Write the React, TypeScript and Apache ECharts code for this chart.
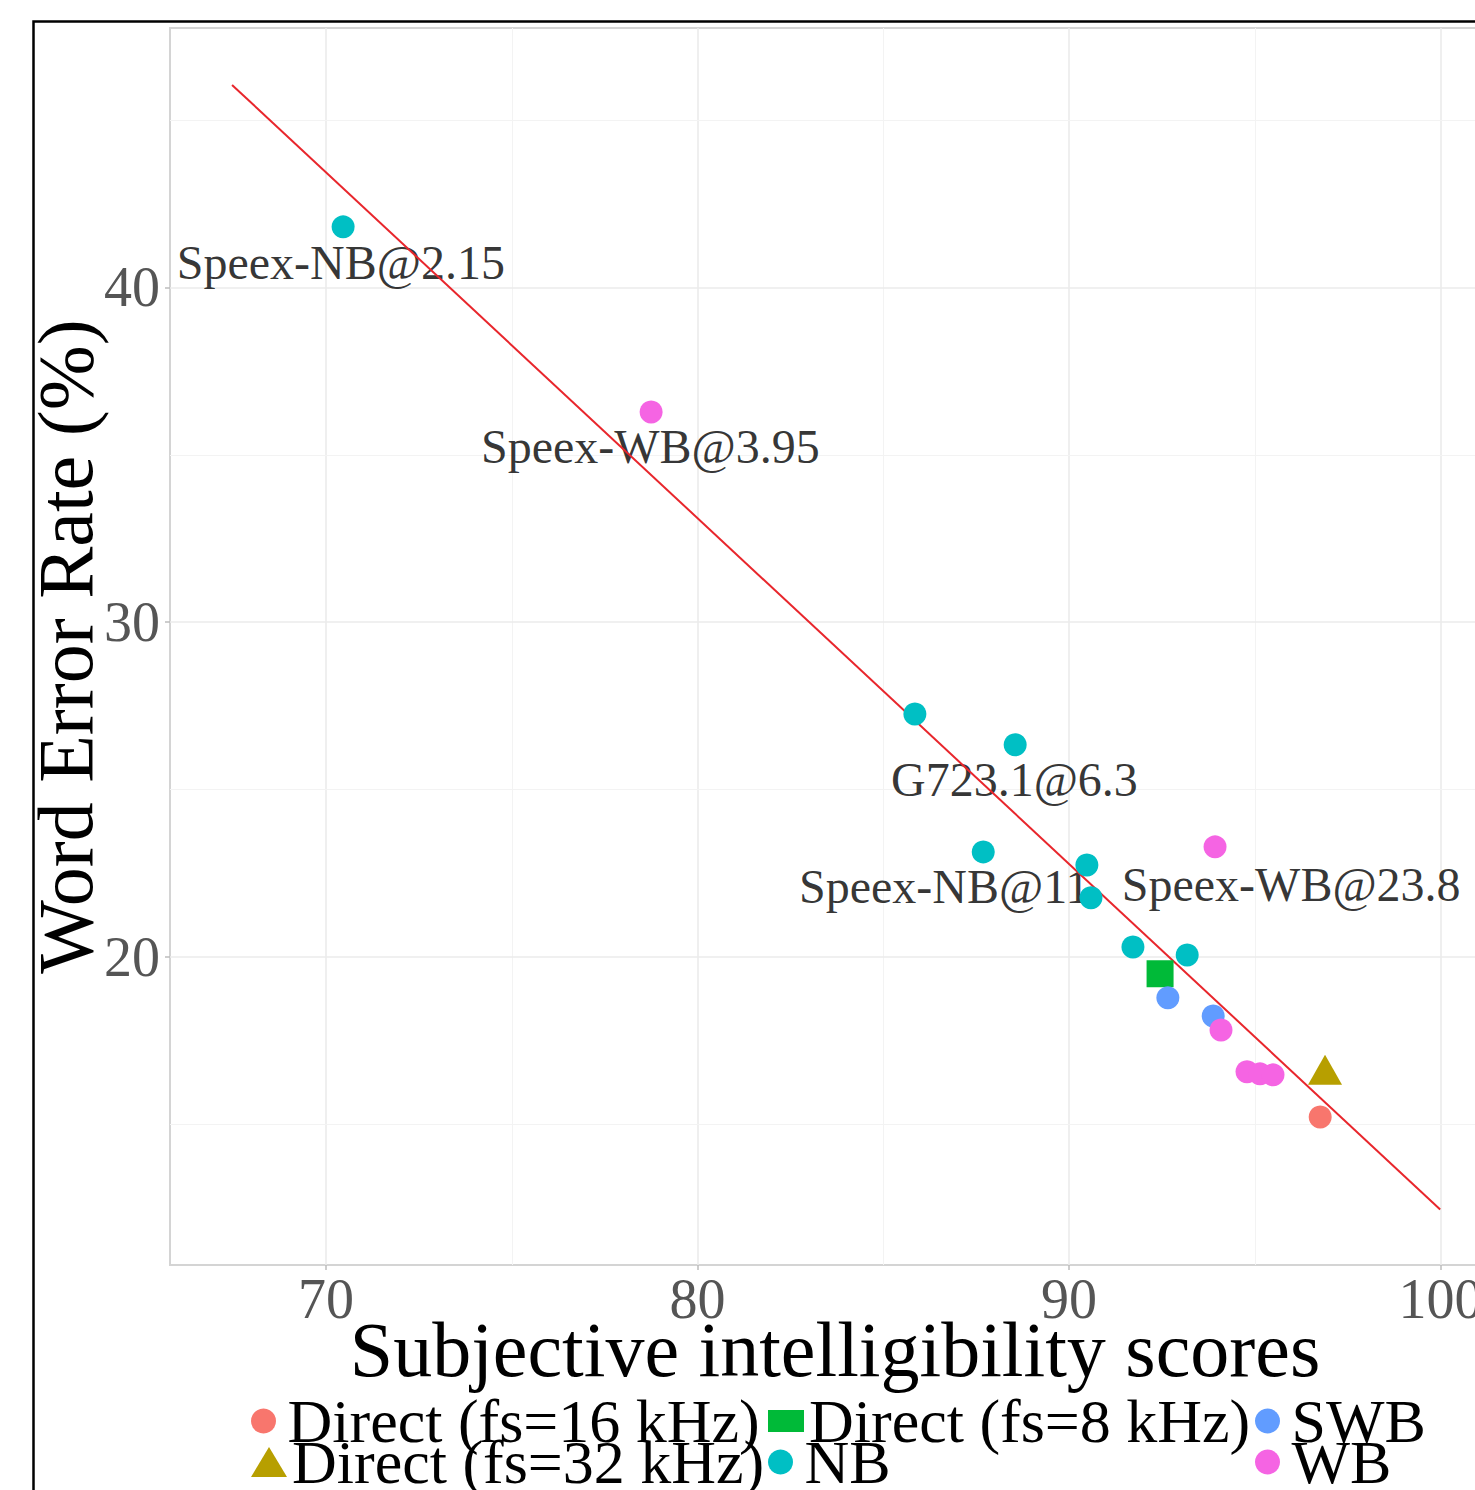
import React, { useEffect, useRef } from "react";
import * as echarts from "echarts";

// ---- data ----
const groups = ["Direct (fs=16 kHz)", "Direct (fs=32 kHz)", "Direct (fs=8 kHz)", "NB", "SWB", "WB"];
const groupColors = ["#F8766D", "#B79F00", "#00BA38", "#00BFC4", "#619CFF", "#F564E3"];
const groupSymbols = ["circle", "triangle", "rect", "circle", "circle", "circle"];
const groupSymbolSizes = [23, [34, 30], 27, 23, 23, 23];

const direct16 = [[96.76, 15.22]];
const direct32 = [[96.89, 16.63]];
const direct8 = [[92.45, 19.5]];
const nb = [
  [70.46, 41.81],
  [85.85, 27.26],
  [88.55, 26.34],
  [87.69, 23.14],
  [90.48, 22.75],
  [90.59, 21.77],
  [91.72, 20.3],
  [93.18, 20.06],
];
const swb = [
  [92.66, 18.78],
  [93.88, 18.24],
];
const wb = [
  [78.75, 36.28],
  [93.93, 23.29],
  [94.09, 17.82],
  [94.79, 16.57],
  [95.14, 16.51],
  [95.49, 16.48],
];
const groupData = [direct16, direct32, direct8, nb, swb, wb];

const regression = [
  [67.47, 46.05],
  [99.99, 12.46],
];

const annotationTexts = ["Speex-NB@2.15", "Speex-WB@3.95", "G723.1@6.3", "Speex-NB@11", "Speex-WB@23.8"];
const annotationX = [70.4, 78.73, 88.53, 86.64, 95.98];
const annotationY = [40.76, 35.24, 25.29, 22.12, 22.18];

const xMajorTicks = [70, 80, 90, 100];
const xMinorTicks = [75, 85, 95];
const yMajorTicks = [20, 30, 40];
const yMinorTicks = [15, 25, 35, 45];

const xTitle = "Subjective intelligibility scores";
const yTitle = "Word Error Rate (%)";

// legend layout (page pixels)
const legendLeft = [251, 251, 768, 768, 1255, 1255];
const legendTop = [1390, 1431, 1390, 1431, 1390, 1431];
const legendItemW = [38, 36, 36, 38, 38, 38];
const legendItemH = [25, 30, 22, 25, 25, 25];

const FONT = "'Liberation Serif', 'Times New Roman', serif";

function buildOption() {
  const gridLines: any[] = [];
  xMajorTicks.forEach((v) => gridLines.push({ xAxis: v, lineStyle: { color: "#ebebeb", width: 1.6, type: "solid" } }));
  xMinorTicks.forEach((v) => gridLines.push({ xAxis: v, lineStyle: { color: "#f3f3f3", width: 1, type: "solid" } }));
  yMajorTicks.forEach((v) => gridLines.push({ yAxis: v, lineStyle: { color: "#ebebeb", width: 1.6, type: "solid" } }));
  yMinorTicks.forEach((v) => gridLines.push({ yAxis: v, lineStyle: { color: "#f3f3f3", width: 1, type: "solid" } }));

  const series: any[] = [
    {
      name: "gridlines",
      type: "line",
      data: [],
      silent: true,
      z: 1,
      markLine: {
        silent: true,
        z: 1,
        symbol: ["none", "none"],
        label: { show: false },
        animation: false,
        data: gridLines,
      },
    },
    {
      name: "annotations",
      type: "scatter",
      silent: true,
      z: 2,
      symbol: "circle",
      symbolSize: 1,
      itemStyle: { color: "rgba(0,0,0,0)" },
      data: annotationTexts.map((t, i) => ({ name: t, value: [annotationX[i], annotationY[i]] })),
      label: {
        show: true,
        position: "inside",
        formatter: "{b}",
        fontFamily: FONT,
        fontSize: 48,
        color: "#000000",
        textBorderWidth: 0,
        textBorderColor: "transparent",
        textShadowBlur: 0,
      },
    },
    {
      name: "fit",
      type: "line",
      silent: true,
      z: 3,
      showSymbol: false,
      data: regression,
      lineStyle: { color: "#e8262c", width: 2 },
    },
  ];

  groups.forEach((g, i) => {
    series.push({
      name: g,
      type: "scatter",
      z: 4,
      symbol: groupSymbols[i],
      symbolSize: groupSymbolSizes[i],
      itemStyle: { color: groupColors[i], opacity: 1 },
      data: groupData[i],
    });
  });

  const legends = groups.map((g, i) => ({
    data: [{ name: g }],
    left: legendLeft[i],
    top: legendTop[i],
    padding: 0,
    itemWidth: legendItemW[i],
    itemHeight: legendItemH[i],
    symbolKeepAspect: true,
    textStyle: { fontFamily: FONT, fontSize: 62, lineHeight: 62, color: "#000", padding: 0 },
  }));

  return {
    animation: false,
    backgroundColor: "#ffffff",
    legend: legends,
    grid: {
      left: 170,
      top: 28,
      width: 1330,
      height: 1237,
      show: true,
      backgroundColor: "#ffffff",
      borderColor: "#d4d4d4",
      borderWidth: 2,
      containLabel: false,
    },
    graphic: [
      {
        type: "rect",
        left: 31,
        top: 19,
        shape: { width: 1600, height: 1600 },
        style: { fill: "none", stroke: "#000", lineWidth: 2.5 },
        silent: true,
        z: 100,
      },
    ],
    xAxis: {
      type: "value",
      min: 65.8,
      max: 101.6,
      name: xTitle,
      nameLocation: "middle",
      nameGap: 45,
      nameMoveOverlap: false,
      nameTextStyle: { fontFamily: FONT, fontSize: 78, color: "#000" },
      axisLine: { show: false },
      axisTick: { show: true, customValues: xMajorTicks, length: 5, lineStyle: { color: "#bdbdbd", width: 1.5 } },
      axisLabel: {
        customValues: xMajorTicks,
        fontFamily: FONT,
        fontSize: 56,
        color: "#555555",
        margin: 6,
      },
      splitLine: { show: false },
    },
    yAxis: {
      type: "value",
      min: 10.8,
      max: 47.75,
      name: yTitle,
      nameLocation: "middle",
      nameGap: 66,
      nameMoveOverlap: false,
      nameTextStyle: { fontFamily: FONT, fontSize: 78, color: "#000" },
      axisLine: { show: false },
      axisTick: { show: true, customValues: yMajorTicks, length: 5, lineStyle: { color: "#bdbdbd", width: 1.5 } },
      axisLabel: {
        customValues: yMajorTicks,
        fontFamily: FONT,
        fontSize: 56,
        color: "#555555",
        margin: 10,
      },
      splitLine: { show: false },
    },
    series,
  };
}

export default function App() {
  const ref = useRef<HTMLDivElement>(null);
  useEffect(() => {
    if (!ref.current) return;
    const chart = echarts.init(ref.current, null, { renderer: "svg" });
    chart.setOption(buildOption() as any);
    return () => {
      chart.dispose();
    };
  }, []);
  return (
    <div
      style={{
        position: "fixed",
        left: 0,
        top: 0,
        width: 1475,
        height: 1490,
        overflow: "hidden",
        background: "#fff",
      }}
    >
      <div ref={ref} style={{ position: "absolute", left: 0, top: 0, width: 1560, height: 1560 }} />
    </div>
  );
}
